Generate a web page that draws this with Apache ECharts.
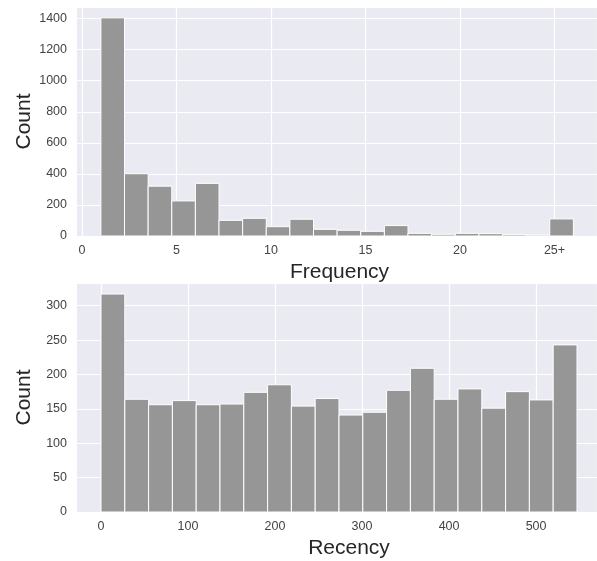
<!DOCTYPE html>
<html>
<head>
<meta charset="utf-8">
<script src="https://cdn.jsdelivr.net/npm/echarts@6/dist/echarts.min.js"></script>
<style>html,body{margin:0;padding:0;background:#fff}#c{width:597px;height:561px}</style>
</head>
<body>
<div id="c"></div>
<script>
// ---- Data ----
const freqEdges = [1, 2.25, 3.5, 4.75, 6, 7.25, 8.5, 9.75, 11, 12.25, 13.5, 14.75, 16, 17.25, 18.5, 19.75, 21, 22.25, 23.5, 24.75, 26];
const freqCounts = [1405, 401, 321, 226, 339, 101, 114, 60, 108, 43, 37, 30, 67, 17, 11, 17, 15, 9, 6, 110];
const freqTickLabels = ['0', '5', '10', '15', '20', '25+'];
const freqTickValues = [0, 5, 10, 15, 20, 25];

const recEdges = [0, 27.35, 54.7, 82.05, 109.4, 136.75, 164.1, 191.45, 218.8, 246.15, 273.5, 300.85, 328.2, 355.55, 382.9, 410.25, 437.6, 464.95, 492.3, 519.65, 547];
const recCounts = [317, 164, 156, 162, 156, 157, 174, 185, 154, 165, 141, 145, 177, 209, 164, 179, 151, 175, 163, 243];

const countTitle = 'Count';
const freqTitle = 'Frequency';
const recTitle = 'Recency';

// ---- Build ----
function binData(edges, counts) {
  return counts.map((c, i) => [edges[i], edges[i + 1], c]);
}
function renderItem(params, api) {
  const x0 = api.value(0), x1 = api.value(1), y = api.value(2);
  const p0 = api.coord([x0, y]);
  const p1 = api.coord([x1, 0]);
  return {
    type: 'rect',
    shape: { x: p0[0], y: p0[1], width: p1[0] - p0[0], height: p1[1] - p0[1] },
    style: { fill: '#969696', stroke: '#ffffff', lineWidth: 1 }
  };
}
const FONT = 'Liberation Sans, Arial, sans-serif';
const BG = '#EAEAF2';
const tickLabel = { fontSize: 12.5, color: '#444', fontFamily: FONT };
const titleStyle = { fontSize: 21, color: '#262626', fontFamily: FONT };
const white = { show: true, lineStyle: { color: '#ffffff', width: 1.2 } };
const plain = v => String(v);

const chart = echarts.init(document.getElementById('c'), null, { renderer: 'canvas' });
chart.setOption({
  animation: false,
  backgroundColor: '#ffffff',
  grid: [
    { left: 77, right: 0, top: 7, height: 229, show: true, backgroundColor: BG, borderWidth: 0 },
    { left: 82, right: 0, top: 7, height: 229, show: false },
    { left: 77, right: 0, top: 283, height: 229, show: true, backgroundColor: BG, borderWidth: 0 },
    { left: 101, right: 0, top: 283, height: 229, show: false }
  ],
  xAxis: [
    { gridIndex: 0, type: 'value', min: 0, max: 1, show: false },
    { gridIndex: 1, type: 'value', min: 0, max: 27.25, interval: 5,
      axisLine: { show: false }, axisTick: { show: false }, splitLine: white,
      axisLabel: Object.assign({ margin: 8, showMaxLabel: false,
        formatter: v => { const i = freqTickValues.indexOf(v); return i >= 0 ? freqTickLabels[i] : ''; } }, tickLabel),
      name: freqTitle, nameLocation: 'middle', nameGap: 26, nameTextStyle: titleStyle },
    { gridIndex: 2, type: 'value', min: 0, max: 1, show: false },
    { gridIndex: 3, type: 'value', min: 0, max: 570, interval: 100,
      axisLine: { show: false }, axisTick: { show: false }, splitLine: white,
      axisLabel: Object.assign({ margin: 8, showMaxLabel: false, formatter: plain }, tickLabel),
      name: recTitle, nameLocation: 'middle', nameGap: 26, nameTextStyle: titleStyle }
  ],
  yAxis: [
    { gridIndex: 0, type: 'value', min: 0, max: 1475, interval: 200,
      axisLine: { show: false }, axisTick: { show: false }, splitLine: white,
      axisLabel: Object.assign({ margin: 10, showMaxLabel: false, formatter: plain }, tickLabel),
      name: countTitle, nameLocation: 'middle', nameGap: 42, nameMoveOverlap: false, nameTextStyle: titleStyle },
    { gridIndex: 1, type: 'value', min: 0, max: 1475, show: false },
    { gridIndex: 2, type: 'value', min: 0, max: 333, interval: 50,
      axisLine: { show: false }, axisTick: { show: false }, splitLine: white,
      axisLabel: Object.assign({ margin: 10, showMaxLabel: false, formatter: plain }, tickLabel),
      name: countTitle, nameLocation: 'middle', nameGap: 42, nameMoveOverlap: false, nameTextStyle: titleStyle },
    { gridIndex: 3, type: 'value', min: 0, max: 333, show: false }
  ],
  series: [
    { type: 'custom', xAxisIndex: 1, yAxisIndex: 1, renderItem, encode: { x: [0, 1], y: 2 },
      data: binData(freqEdges, freqCounts) },
    { type: 'custom', xAxisIndex: 3, yAxisIndex: 3, renderItem, encode: { x: [0, 1], y: 2 },
      data: binData(recEdges, recCounts) }
  ]
});
</script>
</body>
</html>
